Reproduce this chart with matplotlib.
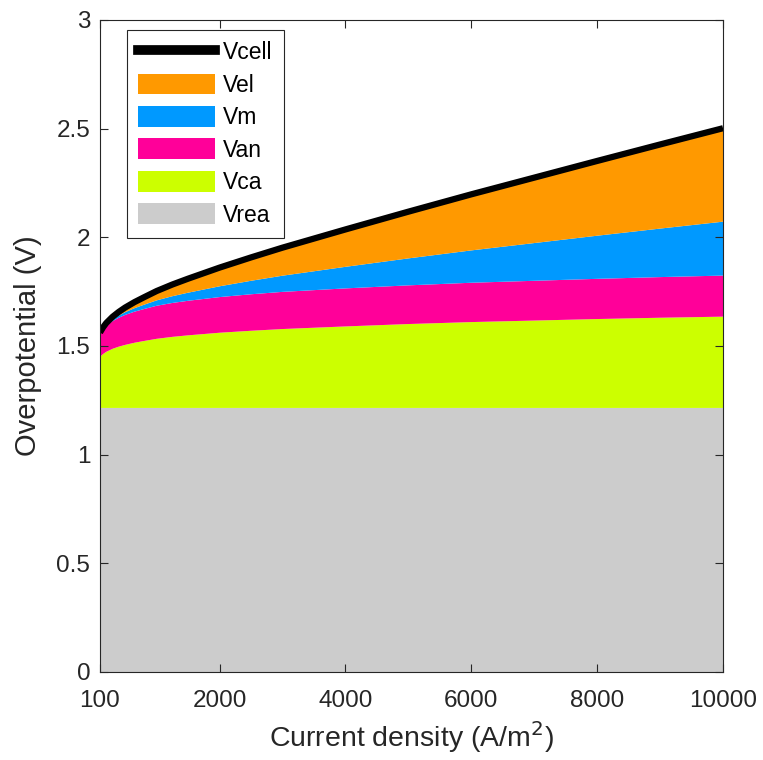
import numpy as np
import matplotlib
matplotlib.use("Agg")
import matplotlib.pyplot as plt
from matplotlib.patches import Patch
from matplotlib.lines import Line2D

plt.rcParams['font.family'] = ['Liberation Sans', 'DejaVu Sans']

# current density (A/m2) and the stacked voltage parts
i_cd = [100, 150, 200, 300, 400, 500, 650, 800, 1000, 1250, 1500, 2000, 2500,
        3000, 3500, 4000, 5000, 6000, 7000, 8000, 9000, 10000]
v_rea = [1.215] * len(i_cd)
v_ca = [0.235, 0.248, 0.258, 0.272, 0.282, 0.290, 0.300, 0.308, 0.318, 0.327,
        0.334, 0.346, 0.355, 0.363, 0.369, 0.375, 0.386, 0.395, 0.402, 0.409,
        0.415, 0.42]
v_an = [0.105, 0.113, 0.119, 0.127, 0.133, 0.138, 0.143, 0.147, 0.152, 0.156,
        0.159, 0.164, 0.168, 0.171, 0.173, 0.175, 0.178, 0.181, 0.183, 0.185,
        0.187, 0.189]
v_m = [0.0025, 0.0037, 0.005, 0.0074, 0.0099, 0.0124, 0.0161, 0.0198, 0.0248,
       0.031, 0.0372, 0.0496, 0.062, 0.0744, 0.0868, 0.0992, 0.124, 0.1488,
       0.1736, 0.1984, 0.2232, 0.248]
v_el = [0.0043, 0.0065, 0.0086, 0.0129, 0.0172, 0.0215, 0.028, 0.0344, 0.043,
        0.0538, 0.0645, 0.086, 0.1075, 0.129, 0.1505, 0.172, 0.215, 0.258,
        0.301, 0.344, 0.387, 0.43]

names = ['Vrea', 'Vca', 'Van', 'Vm', 'Vel']
colors = ['#cccccc', '#ccff00', '#ff0099', '#0099ff', '#ff9900']

fig = plt.figure(figsize=(7.63, 7.60), dpi=100)
ax = fig.add_axes([0.131, 0.1158, 0.8166, 0.8579])

parts = np.vstack([v_rea, v_ca, v_an, v_m, v_el])
ax.stackplot(i_cd, parts, colors=colors, linewidth=0)
v_cell = parts.sum(axis=0)
ax.plot(i_cd, v_cell, color='k', lw=4.5, solid_capstyle='butt')

ax.set_xlim(100, 10000)
ax.set_ylim(0, 3)
ax.set_xticks([100, 2000, 4000, 6000, 8000, 10000])
ax.set_yticks([0, 0.5, 1, 1.5, 2, 2.5, 3])
ax.set_yticklabels(['0', '0.5', '1', '1.5', '2', '2.5', '3'])
ax.tick_params(direction='in', top=True, right=True, length=6, width=0.8,
               labelsize=17.5, colors='#262626')
ax.tick_params(axis='x', pad=13)
ax.tick_params(axis='y', pad=7)
for s in ax.spines.values():
    s.set_color('#262626')
    s.set_linewidth(0.8)
ax.set_xlabel('Current density (A/m$^2$)', fontsize=20.5, color='#262626', labelpad=5)
ax.set_ylabel('Overpotential (V)', fontsize=21, color='#262626', labelpad=10)

handles = [Line2D([], [], color='k', lw=7)]
labels = ['Vcell']
for n, c in zip(names[::-1], colors[::-1]):
    handles.append(Patch(facecolor=c, edgecolor='none'))
    labels.append(n)
leg = ax.legend(handles, labels, loc='upper left', bbox_to_anchor=(0.043, 0.985),
                fontsize=16.5, frameon=True, fancybox=False, framealpha=1,
                edgecolor='#262626', handlelength=3.35, handleheight=1.02,
                labelspacing=0.4, handletextpad=0.34, borderpad=0.5,
                borderaxespad=0)
leg.get_frame().set_linewidth(0.8)

fig.savefig('out.png', dpi=100)
